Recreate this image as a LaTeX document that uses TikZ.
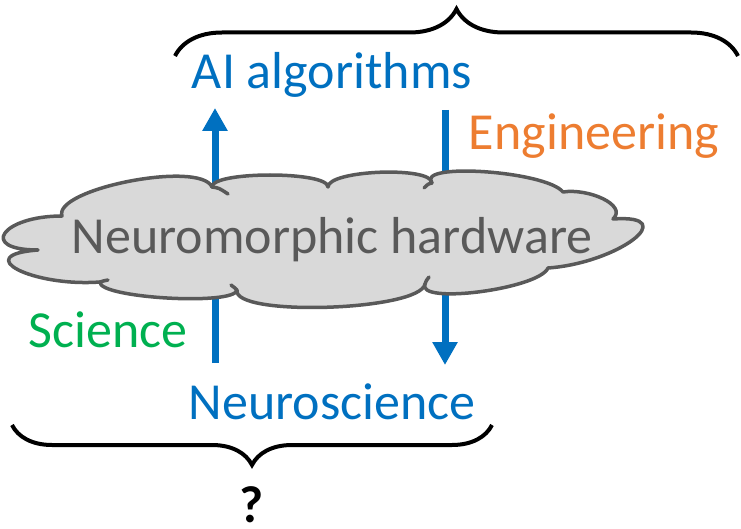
\documentclass[tikz,border=0pt]{standalone}
\usepackage{fontspec}
\setmainfont{Carlito}
\usetikzlibrary{arrows.meta,decorations.pathreplacing}

\definecolor{aiblue}{RGB}{0,112,192}
\definecolor{engorange}{RGB}{237,125,49}
\definecolor{scigreen}{RGB}{0,176,80}
\definecolor{cloudfill}{RGB}{217,217,217}
\definecolor{cloudline}{RGB}{89,89,89}

\tikzstyle{label}=[anchor=base,inner sep=0pt,font=\fontsize{52}{60}\selectfont]
\tikzstyle{flow}=[aiblue,line width=7pt,-{Triangle[width=24pt,length=23pt]}]
\tikzstyle{bracket}=[line width=4pt,decorate]
\tikzstyle{puffline}=[draw=cloudline,line width=3.5pt,line join=round,line cap=round]

\begin{document}
\begin{tikzpicture}[x=1pt,y=-1pt]
  \useasboundingbox (0,0) rectangle (741,529);

  \node[label,text=aiblue] (ai) at (332,89) {AI algorithms};
  \node[label,text=aiblue] (neuro) at (332,419) {Neuroscience};
  \node[label,text=engorange] (eng) at (594,150) {Engineering};
  \node[label,text=scigreen] (sci) at (108,347) {Science};

  % arrows run behind the cloud
  \coordinate (sciFrom) at (215,363);
  \coordinate (sciTo) at (215,108);
  \coordinate (engFrom) at (445,110);
  \coordinate (engTo) at (445,365);
  \draw[flow] (sciFrom) -- (sciTo);
  \draw[flow] (engFrom) -- (engTo);

  % the cloud, puff by puff
  \draw[puffline,fill=cloudfill] (38,250)
    .. controls (-22,250) and (2,216) .. (62,216)
    .. controls (53,189) and (200,160) .. (212,187)
    .. controls (212,171) and (328,171) .. (328,187)
    .. controls (328,170) and (432,166) .. (432,183)
    .. controls (415,162) and (546,171) .. (563,192)
    .. controls (588,188) and (628,205) .. (613,219)
    .. controls (683,214) and (618,263) .. (548,268)
    .. controls (539,289) and (416,305) .. (425,284)
    .. controls (420,311) and (232,317) .. (237,290)
    .. controls (235,306) and (98,298) .. (100,282)
    .. controls (32,287) and (-30,255) .. cycle;
  % little curls where puffs meet
  \draw[puffline] (212,187) .. controls (219,188) .. (228,194);
  \draw[puffline] (432,183) .. controls (428,184) .. (424,188);
  \draw[puffline] (425,284) .. controls (426,281) .. (429,277);
  \draw[puffline] (237,290) .. controls (235,288) .. (231,285);
  \draw[puffline] (100,282) .. controls (103,281) .. (108,280);

  \node[label,text=cloudline] (hw) at (332,254) {Neuromorphic hardware};

  % braces
  \coordinate (topL) at (175,56);
  \coordinate (topR) at (738,56);
  \draw[bracket,decoration={brace,amplitude=47pt}] (topL) -- (topR);
  \coordinate (botR) at (492,425);
  \coordinate (botL) at (12,425);
  \draw[bracket,decoration={brace,amplitude=40pt}] (botR) -- (botL);

  \node[label,font=\fontsize{52}{60}\selectfont\bfseries] (q) at (252,522) {?};
\end{tikzpicture}
\end{document}
